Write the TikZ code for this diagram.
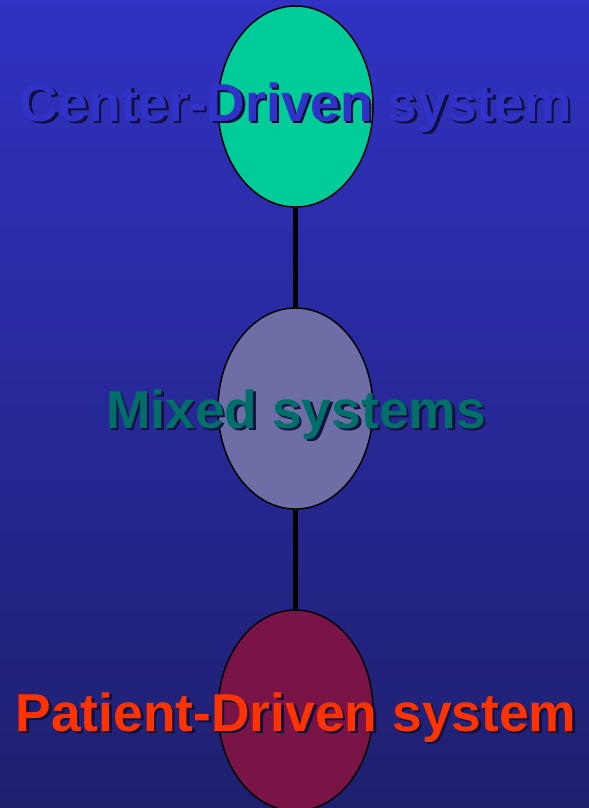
\documentclass[tikz,border=0pt]{standalone}
\usepackage{fontspec}
\setmainfont{Liberation Sans}
\usetikzlibrary{shapes.geometric}
\definecolor{bgtop}{RGB}{47,50,194}
\definecolor{bgbot}{RGB}{31,31,110}
\definecolor{cgreen}{RGB}{0,204,153}
\definecolor{clav}{RGB}{110,110,166}
\definecolor{cmaroon}{RGB}{122,20,70}
\definecolor{tblue}{RGB}{48,50,200}
\definecolor{tteal}{RGB}{0,110,105}
\definecolor{tred}{RGB}{255,51,0}
\definecolor{tshadow}{RGB}{16,16,62}
% text with a drop shadow set behind it, down and to the right
\newcommand{\dropshadow}[1]{%
  \makebox[0pt][l]{\hspace{1.9pt}\raisebox{-1.9pt}{\color{tshadow}#1}}#1}
\tikzset{
  oval/.style={ellipse, draw=black, line width=1.1pt, inner sep=0pt,
    minimum width=116.25pt, minimum height=150.75pt},
  link/.style={draw=black, line width=4.1pt},
  lbl/.style={anchor=base, inner sep=0pt,
    font=\fontsize{40.05pt}{48pt}\selectfont\bfseries}
}
\begin{document}
\begin{tikzpicture}[x=0.75pt, y=-0.75pt]
  \useasboundingbox (0,0) rectangle (589,808);
  \shade[top color=bgtop, bottom color=bgbot] (0,0) rectangle (589,808);

  % the three systems
  \node[oval, fill=cgreen]  (center)  at (295.5,106.5) {};
  \node[oval, fill=clav]    (mixed)   at (295.5,408.5) {};
  \node[oval, fill=cmaroon] (patient) at (295.5,710.5) {};

  \draw[link] (center.south) -- (mixed.north);
  \draw[link] (mixed.south) -- (patient.north);

  % labels
  \node[lbl, text=tblue] (centerT)  at (296,121) {\dropshadow{Center-Driven system}};
  \node[lbl, text=tteal] (mixedT)   at (296,428) {\dropshadow{Mixed systems}};
  \node[lbl, text=tred]  (patientT) at (296,731) {\dropshadow{Patient-Driven system}};
\end{tikzpicture}
\end{document}
